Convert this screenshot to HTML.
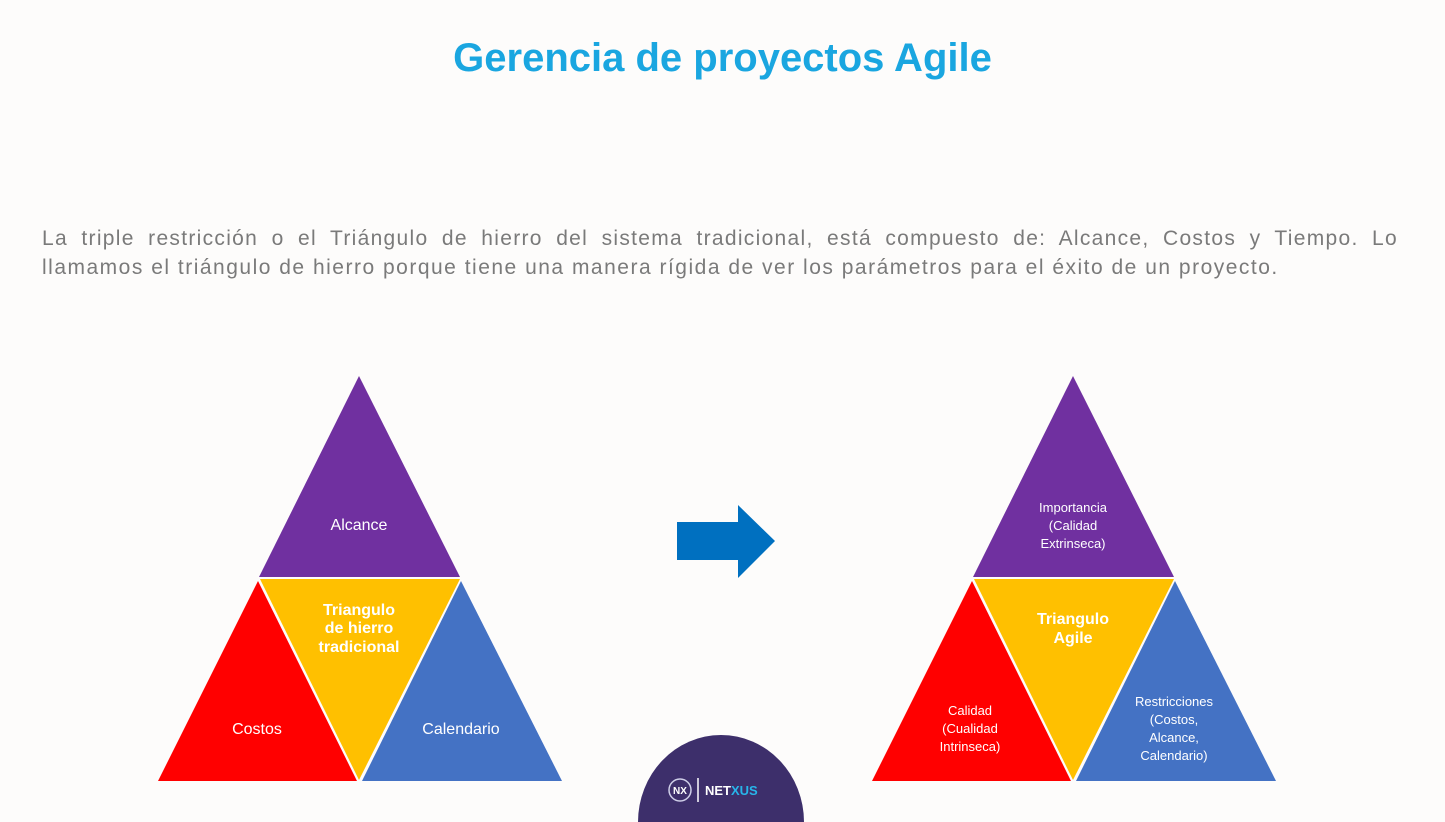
<!DOCTYPE html>
<html><head><meta charset="utf-8"><style>
body{margin:0;width:1445px;height:822px;background:#fdfcfb;position:relative;overflow:hidden;font-family:"Liberation Sans",sans-serif}
h1{position:absolute;left:0;width:1445px;top:36px;margin:0;text-align:center;color:#1aa6e0;font-size:40px;font-weight:bold}
.p{position:absolute;left:42px;width:1356px;margin:0;color:#7a7a7a;font-size:21px;line-height:29px;white-space:nowrap;letter-spacing:1.5px}
.l1{top:224px;text-align:justify;text-align-last:justify;white-space:normal;letter-spacing:1.3px}
.l2{top:253px}
</style></head><body>
<h1>Gerencia de proyectos Agile</h1>
<div class="p l1">La triple restricción o el Triángulo de hierro del sistema tradicional, está compuesto de: Alcance, Costos y Tiempo. Lo</div>
<div class="p l2">llamamos el triángulo de hierro porque tiene una manera rígida de ver los parámetros para el éxito de un proyecto.</div>
<svg width="1445" height="822" style="position:absolute;left:0;top:0" font-family="Liberation Sans, sans-serif">
<g>
<polygon points="359,376 460,577 259,577" fill="#7030a0"/>
<polygon points="260,579 460,579 359,780" fill="#ffc000"/>
<polygon points="258,581 357,781 158,781" fill="#ff0000"/>
<polygon points="461,581 562,781 362,781" fill="#4472c4"/>
<g fill="#fff" font-size="16" text-anchor="middle">
<text x="359" y="530">Alcance</text>
<text x="257" y="734">Costos</text>
<text x="461" y="734">Calendario</text>
<g font-weight="bold" font-size="16"><text x="359" y="615">Triangulo</text><text x="359" y="633">de hierro</text><text x="359" y="652">tradicional</text></g>
</g>
</g>
<polygon points="677,522 738,522 738,505 775,541 738,578 738,560 677,560" fill="#0070c0"/>
<g>
<polygon points="1073,376 1174,577 973,577" fill="#7030a0"/>
<polygon points="974,579 1174,579 1073,780" fill="#ffc000"/>
<polygon points="972,581 1071,781 872,781" fill="#ff0000"/>
<polygon points="1175,581 1276,781 1076,781" fill="#4472c4"/>
<g fill="#fff" font-size="13" text-anchor="middle">
<text x="1073" y="512">Importancia</text><text x="1073" y="530">(Calidad</text><text x="1073" y="548">Extrinseca)</text>
<text x="970" y="715">Calidad</text><text x="970" y="733">(Cualidad</text><text x="970" y="751">Intrinseca)</text>
<text x="1174" y="706">Restricciones</text><text x="1174" y="724">(Costos,</text><text x="1174" y="742">Alcance,</text><text x="1174" y="760">Calendario)</text>
<g font-weight="bold" font-size="16"><text x="1073" y="624">Triangulo</text><text x="1073" y="643">Agile</text></g>
</g>
</g>
<path d="M638,822 A83,87 0 0 1 804,822 Z" fill="#3d2f6b"/>
<circle cx="680" cy="790" r="11" fill="none" stroke="#cfcfe8" stroke-width="1.5"/>
<text x="680" y="794" fill="#fff" font-size="10" font-weight="bold" text-anchor="middle">NX</text>
<line x1="698" y1="778" x2="698" y2="802" stroke="#fff" stroke-width="1.5"/>
<text x="705" y="795" fill="#fff" font-size="13" font-weight="bold">NET<tspan fill="#27b5ea">XUS</tspan></text>
</svg>
</body></html>
